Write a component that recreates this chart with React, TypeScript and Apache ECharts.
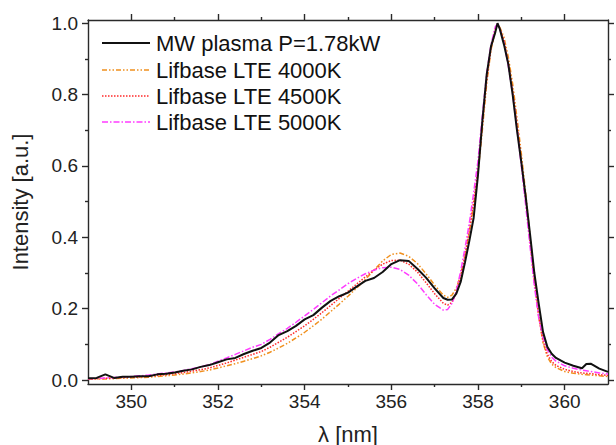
import React, { useEffect, useRef } from "react";
import * as echarts from "echarts";

const wavelength = [
  349.0, 349.2, 349.4, 349.6, 349.8, 350.0, 350.2, 350.4, 350.6, 350.8,
  351.0, 351.2, 351.4, 351.6, 351.8, 352.0, 352.2, 352.4, 352.6, 352.8,
  353.0, 353.2, 353.4, 353.6, 353.8, 354.0, 354.2, 354.4, 354.6, 354.8,
  355.0, 355.2, 355.4, 355.6, 355.8, 356.0, 356.2, 356.4, 356.6, 356.8,
  357.0, 357.2, 357.3, 357.4, 357.5, 357.6, 357.7, 357.8, 357.9, 358.0,
  358.1, 358.2, 358.3, 358.4, 358.45, 358.5, 358.6, 358.7, 358.8, 358.9,
  359.0, 359.1, 359.2, 359.3, 359.4, 359.5, 359.6, 359.7, 359.8, 360.0,
  360.2, 360.4, 360.5, 360.6, 360.8, 361.0,
];

const mwPlasma = [
  0.005, 0.006, 0.016, 0.006, 0.009, 0.009, 0.011, 0.011, 0.016, 0.018,
  0.021, 0.026, 0.030, 0.037, 0.042, 0.050, 0.058, 0.062, 0.073, 0.082,
  0.090, 0.105, 0.126, 0.137, 0.152, 0.170, 0.182, 0.203, 0.222, 0.235,
  0.245, 0.262, 0.278, 0.286, 0.303, 0.325, 0.336, 0.334, 0.312, 0.287,
  0.257, 0.230, 0.225, 0.226, 0.242, 0.275, 0.330, 0.390, 0.455, 0.575,
  0.725, 0.855, 0.935, 0.975, 1.0, 0.985, 0.94, 0.885, 0.80, 0.70,
  0.61, 0.515, 0.41, 0.30, 0.215, 0.135, 0.093, 0.074, 0.062, 0.049,
  0.040, 0.033, 0.045, 0.046, 0.032, 0.023,
];

const lte4000 = [
  0.002, 0.003, 0.003, 0.004, 0.005, 0.006, 0.007, 0.008, 0.010, 0.012,
  0.014, 0.017, 0.020, 0.024, 0.028, 0.034, 0.040, 0.046, 0.053, 0.060,
  0.068, 0.078, 0.090, 0.103, 0.118, 0.134, 0.152, 0.171, 0.192, 0.213,
  0.235, 0.258, 0.282, 0.308, 0.334, 0.352, 0.356, 0.347, 0.327, 0.298,
  0.266, 0.238, 0.232, 0.238, 0.258, 0.295, 0.350, 0.415, 0.490, 0.580,
  0.700, 0.830, 0.925, 0.980, 0.995, 0.990, 0.960, 0.905, 0.830, 0.735,
  0.635, 0.525, 0.405, 0.285, 0.180, 0.105, 0.065, 0.045, 0.035, 0.024,
  0.019, 0.016, 0.015, 0.014, 0.012, 0.010,
];

const lte4500 = [
  0.003, 0.004, 0.005, 0.006, 0.007, 0.008, 0.009, 0.011, 0.013, 0.015,
  0.018, 0.021, 0.025, 0.029, 0.034, 0.041, 0.048, 0.056, 0.064, 0.072,
  0.080, 0.092, 0.106, 0.120, 0.136, 0.152, 0.170, 0.189, 0.209, 0.229,
  0.249, 0.269, 0.289, 0.308, 0.325, 0.335, 0.336, 0.325, 0.303, 0.273,
  0.242, 0.215, 0.210, 0.218, 0.245, 0.290, 0.350, 0.420, 0.500, 0.590,
  0.715, 0.840, 0.930, 0.985, 0.998, 0.988, 0.950, 0.890, 0.810, 0.715,
  0.615, 0.505, 0.390, 0.275, 0.180, 0.110, 0.072, 0.052, 0.041, 0.030,
  0.024, 0.020, 0.019, 0.018, 0.015, 0.013,
];

const lte5000 = [
  0.004, 0.005, 0.006, 0.007, 0.009, 0.010, 0.012, 0.014, 0.017, 0.020,
  0.023, 0.027, 0.032, 0.037, 0.043, 0.053, 0.062, 0.072, 0.082, 0.092,
  0.100, 0.114, 0.130, 0.145, 0.162, 0.180, 0.198, 0.217, 0.236, 0.253,
  0.270, 0.285, 0.298, 0.308, 0.315, 0.316, 0.310, 0.294, 0.270, 0.240,
  0.212, 0.196, 0.198, 0.215, 0.250, 0.305, 0.370, 0.440, 0.525, 0.615,
  0.740, 0.860, 0.940, 0.990, 0.998, 0.985, 0.945, 0.880, 0.800, 0.705,
  0.600, 0.490, 0.375, 0.265, 0.175, 0.120, 0.085, 0.064, 0.053, 0.040,
  0.033, 0.028, 0.026, 0.024, 0.020, 0.017,
];

const seriesNames = [
  "MW plasma P=1.78kW",
  "Lifbase LTE 4000K",
  "Lifbase LTE 4500K",
  "Lifbase LTE 5000K",
];

// tick rows: every second entry is shown (interval 1)
const xMajorLabels = ["350", "351", "352", "353", "354", "355", "356", "357", "358", "359", "360"];
const xMinorCats = ["351", "352", "353", "354", "355", "356", "357", "358", "359"];
const yMajorLabels = ["0.0", "0.1", "0.2", "0.3", "0.4", "0.5", "0.6", "0.7", "0.8", "0.9", "1.0"];
const yMinorCats = ["0.1", "0.2", "0.3", "0.4", "0.5", "0.6", "0.7", "0.8", "0.9"];

const FONT = "'Liberation Sans', Arial, Helvetica, sans-serif";
const AXIS_COLOR = "#2a2a2a";
const LW = 1.4;
const X_MIN = 349;
const X_MAX = 361;
const Y_MIN = -0.011;
const Y_MAX = 1.009;

function pairs(vals: number[]) {
  return wavelength.map((x, i) => [x, vals[i]]);
}

export default function App() {
  const ref = useRef<HTMLDivElement>(null);

  useEffect(() => {
    if (!ref.current) return;
    const chart = echarts.init(ref.current, undefined, { renderer: "svg" });

    const W = 616;
    const H = 445;
    const gL = 88;
    const gR = 8;
    const gT = 20;
    const gB = 61;
    const plotW = W - gL - gR;
    const plotH = H - gT - gB;
    const px = (v: number) => gL + ((v - X_MIN) / (X_MAX - X_MIN)) * plotW;
    const py = (v: number) => gT + ((Y_MAX - v) / (Y_MAX - Y_MIN)) * plotH;
    const frameRight = W - gR;
    const frameBottom = H - gB;

    const catAxis = (
      gridIndex: number,
      position: string,
      data: string[],
      len: number,
      offset: number,
      label: boolean,
      margin: number
    ) => ({
      type: "category",
      gridIndex,
      position,
      data,
      boundaryGap: false,
      offset,
      axisLine: { show: false },
      axisTick: { show: true, interval: 1, length: len, lineStyle: { color: AXIS_COLOR, width: LW } },
      axisLabel: label
        ? { show: true, interval: 1, margin, fontSize: 19, fontFamily: FONT, color: "#222" }
        : { show: false },
      splitLine: { show: false },
    });

    const frameAxis = (position: string, min: number, max: number) => ({
      type: "value",
      gridIndex: 0,
      position,
      min,
      max,
      axisLine: { show: true, onZero: false, lineStyle: { color: AXIS_COLOR, width: LW } },
      axisTick: { show: false },
      axisLabel: { show: false },
      splitLine: { show: false },
    });

    const g1 = { left: px(350), right: W - px(360), top: py(1), bottom: H - py(0) };
    const g2 = { left: px(351), right: W - px(359), top: py(0.9), bottom: H - py(0.1) };

    const styles = [
      { color: "#111111", width: 2, dash: null as any },
      { color: "#F0901E", width: 1.5, dash: [5, 2, 1.5, 2, 1.5, 2] },
      { color: "#FF2A2A", width: 1.5, dash: [1.5, 1.5] },
      { color: "#FF3CFF", width: 1.5, dash: [6, 2, 1.5, 2] },
    ];
    const values = [mwPlasma, lte4000, lte4500, lte5000];
    const legendRows = [43, 70, 96, 122];

    const legendEls: any[] = [];
    styles.forEach((s, i) => {
      legendEls.push({
        type: "line",
        silent: true,
        shape: { x1: 102, y1: legendRows[i], x2: 150, y2: legendRows[i] },
        style: { stroke: s.color, lineWidth: s.width, lineDash: s.dash },
      });
      legendEls.push({
        type: "text",
        silent: true,
        x: 156,
        y: legendRows[i],
        style: {
          text: seriesNames[i],
          fontSize: 22,
          fontFamily: FONT,
          fill: "#111",
          align: "left",
          textAlign: "left",
          verticalAlign: "middle",
          textVerticalAlign: "middle",
        },
      });
    });

    const mk = (i: number) => ({
      name: seriesNames[i],
      type: "line",
      xAxisIndex: 0,
      yAxisIndex: 0,
      data: pairs(values[i]),
      symbol: "none",
      lineStyle: { color: styles[i].color, width: styles[i].width, type: styles[i].dash || "solid" },
      itemStyle: { color: styles[i].color },
    });

    chart.setOption({
      animation: false,
      grid: [
        { left: gL, right: gR, top: gT, bottom: gB },
        g1,
        g2,
      ],
      xAxis: [
        frameAxis("bottom", X_MIN, X_MAX),
        frameAxis("top", X_MIN, X_MAX),
        catAxis(1, "bottom", xMajorLabels, 6, frameBottom - py(0), true, 8),
        catAxis(1, "top", xMajorLabels, 6, py(1) - gT, false, 8),
        catAxis(2, "bottom", xMinorCats, 3, frameBottom - py(0.1), false, 8),
        catAxis(2, "top", xMinorCats, 3, py(0.9) - gT, false, 8),
      ],
      yAxis: [
        frameAxis("left", Y_MIN, Y_MAX),
        frameAxis("right", Y_MIN, Y_MAX),
        catAxis(1, "left", yMajorLabels, 6, px(350) - gL, true, 10),
        catAxis(1, "right", yMajorLabels, 6, frameRight - px(360), false, 10),
        catAxis(2, "left", yMinorCats, 3, px(351) - gL, false, 10),
        catAxis(2, "right", yMinorCats, 3, frameRight - px(359), false, 10),
      ],
      graphic: [
        ...legendEls,
        {
          type: "text",
          silent: true,
          x: (gL + frameRight) / 2,
          y: 434,
          style: {
            text: "λ [nm]",
            fontSize: 22,
            fontFamily: FONT,
            fill: "#222",
            align: "center",
            textAlign: "center",
            verticalAlign: "middle",
            textVerticalAlign: "middle",
          },
        },
        {
          type: "text",
          silent: true,
          x: 20,
          y: (gT + frameBottom) / 2,
          rotation: Math.PI / 2,
          style: {
            text: "Intensity [a.u.]",
            fontSize: 22,
            fontFamily: FONT,
            fill: "#222",
            align: "center",
            textAlign: "center",
            verticalAlign: "middle",
            textVerticalAlign: "middle",
          },
        },
      ],
      series: [mk(1), mk(2), mk(3), mk(0)],
    });

    return () => chart.dispose();
  }, []);

  return <div ref={ref} style={{ width: 616, height: 445, position: "absolute", left: 0, top: 0 }} />;
}
